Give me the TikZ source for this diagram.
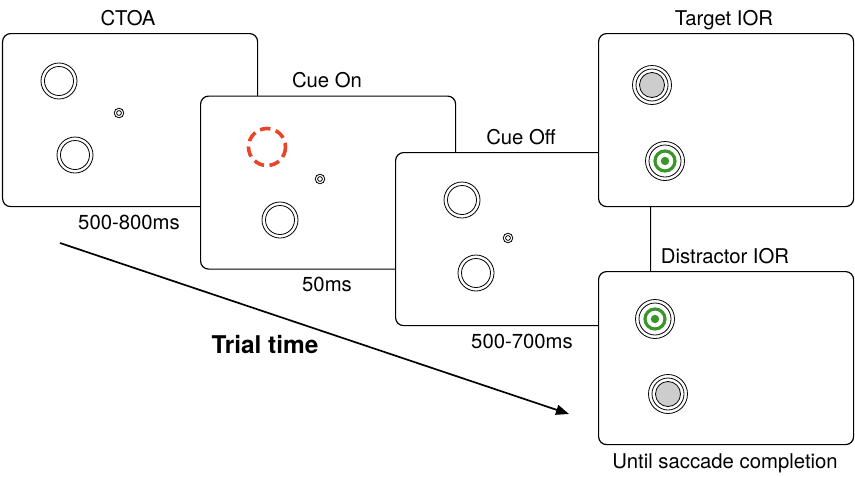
\documentclass[tikz,border=0pt]{standalone}
\usepackage{fontspec}
\setmainfont{TeX Gyre Heros}
\usetikzlibrary{arrows.meta}
\definecolor{cuered}{RGB}{232,70,40}
\definecolor{tgreen}{RGB}{58,150,40}
\definecolor{dgray}{RGB}{205,205,205}
\tikzset{
  panel/.style={draw=black, line width=1.2pt, fill=white, rounded corners=8pt,
    minimum width=255pt, minimum height=173pt, inner sep=0pt, anchor=north west},
  lbl/.style={font=\fontsize{20.3}{24}\selectfont, anchor=base, inner sep=0pt},
  ring/.style={draw=black, line width=0.8pt},
  cuering/.style={draw=cuered, line width=3.6pt, dash pattern=on 10.5pt off 5.5pt},
  grn/.style={draw=tgreen, line width=3.2pt},
}
\newcommand{\dblcirc}[2]{%
  \draw[ring] (#1,#2) circle (18);
  \draw[ring] (#1,#2) circle (14.5);}
\newcommand{\fixdot}[2]{%
  \draw[ring] (#1,#2) circle (4.8);
  \draw[ring] (#1,#2) circle (2.4);}
\newcommand{\graystim}[2]{%
  \draw[ring] (#1,#2) circle (19.5);
  \draw[ring] (#1,#2) circle (16);
  \draw[ring, fill=dgray] (#1,#2) circle (12.5);}
\newcommand{\greenstim}[2]{%
  \draw[ring] (#1,#2) circle (19.5);
  \draw[ring] (#1,#2) circle (16);
  \draw[grn] (#1,#2) circle (10);
  \fill[tgreen] (#1,#2) circle (4.2);}
\begin{document}
\begin{tikzpicture}[x=1pt,y=-1pt]
\useasboundingbox (0,0) rectangle (855,477);
% panels
\node[panel] (p1) at (2,33) {};
\dblcirc{59}{81}\dblcirc{75}{155}\fixdot{119}{113}
\node[panel] (p2) at (200,95.5) {};
\draw[cuering] (267,147) circle (18.5);
\dblcirc{280}{220}\fixdot{320}{179}
\node[panel] (p3) at (395,152) {};
\dblcirc{462}{200}\dblcirc{476}{273}\fixdot{508}{238}
\node[panel] (p4) at (598,33) {};
\graystim{652}{85}\greenstim{665}{161}
\node[panel] (p5) at (598,271) {};
\greenstim{655}{319}\graystim{668}{394}
% labels
\node[lbl] (l1) at (128,25) {CTOA};
\node[lbl] (l2) at (327,87) {Cue On};
\node[lbl] (l3) at (521,144) {Cue Off};
\node[lbl] (l4) at (724,25) {Target IOR};
\node[lbl] (l5) at (725,263) {Distractor IOR};
\node[lbl] (t1) at (129,229) {500-800ms};
\node[lbl] (t2) at (327,291) {50ms};
\node[lbl] (t3) at (522,348) {500-700ms};
\node[lbl] (t4) at (725,468) {Until saccade completion};
\node[lbl, font=\fontsize{24.4}{28}\selectfont\bfseries] (tt) at (265,353) {Trial time};
% arrow
\coordinate (a0) at (60,243);
\coordinate (a1) at (569,414);
\draw[line width=1.7pt, -{Triangle[length=13pt,width=10pt]}] (a0) -- (a1);
\end{tikzpicture}
\end{document}
